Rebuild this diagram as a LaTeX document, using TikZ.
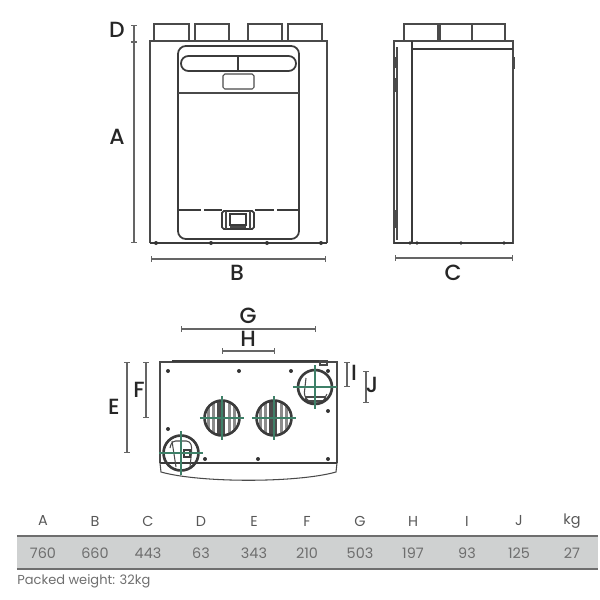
\documentclass[tikz,border=0pt]{standalone}
\usepackage{fontspec}
\usetikzlibrary{arrows.meta}
\setmainfont{Poppins}
\newfontfamily\dimfont{Poppins Medium}
\definecolor{lineC}{HTML}{4A4A4A}
\definecolor{bandC}{HTML}{CFD1D1}
\definecolor{textC}{HTML}{6E6E6E}
\definecolor{axisC}{HTML}{3E8068}
\tikzset{
  outline/.style={draw=lineC,line width=0.6pt},
  heavy/.style={draw=lineC!80!black,line width=1pt},
  dimline/.style={draw=lineC!85,line width=0.8pt,{Bar[width=3pt]}-{Bar[width=3pt]}},
  dimlabel/.style={font=\dimfont\fontsize{12.5}{12.5}\selectfont,text=black!85,inner sep=0pt},
  headlabel/.style={font=\fontsize{8.2}{10}\selectfont,text=textC!80!black,inner sep=0pt},
  valuelabel/.style={font=\fontsize{8.2}{10}\selectfont,text=textC,inner sep=0pt},
  axisline/.style={draw=axisC,line width=0.7pt},
  fixdot/.style={fill=lineC!70!black,draw=none}
}
\begin{document}
\begin{tikzpicture}[x=0.02cm,y=-0.02cm]
\useasboundingbox (0,0) rectangle (600,600);
% front view
\foreach \a/\b in {154/189,195/229,248/282,288/322}
  \draw[outline] (\a,41)--(\a,24)--(\b,24)--(\b,41);
\draw[outline] (150,243)--(150,41)--(327,41)--(327,243);
\draw[heavy] (150,243)--(327,243);
\foreach \x in {156,211,267,321}
  \fill[fixdot] (\x,243) circle (2);
\draw[heavy,rounded corners=4.5pt] (178,93)--(178,46)--(299,46)--(299,93);
\draw[heavy,rounded corners=4.5pt] (178,210)--(178,239)--(299,239)--(299,210);
\draw[heavy] (178,93)--(178,210);
\draw[heavy] (299,93)--(299,210);
\draw[outline] (178,93)--(299,93);
\draw[heavy,rounded corners=4.2pt] (181,56) rectangle (296,71);
\draw[heavy] (238,56)--(238,71);
\draw[outline,rounded corners=1pt] (223,74) rectangle (254,89);
\foreach \a/\b in {178/201,204/222,255/274,277/299}
  \draw[heavy] (\a,210)--(\b,210);
\draw[heavy,rounded corners=1pt] (222,211) rectangle (254,229);
\draw[outline] (226,211)--(226,229);
\draw[outline] (250,211)--(250,229);
\draw[heavy] (230,214) rectangle (246,225);
\draw[outline] (230,227)--(246,227);
\draw[dimline] (134,25)--(134,42);
\draw[dimline] (134,42)--(134,243);
\draw[dimline] (151,259)--(326,259);
\node[dimlabel] (labD) at (117,30) {D};
\node[dimlabel] (labA) at (117,137) {A};
\node[dimlabel] (labB) at (237,273) {B};
% side view
\draw[outline] (404,41)--(404,24)--(505,24)--(505,41);
\draw[outline] (438,24)--(438,41);
\draw[outline] (440,24)--(440,41);
\draw[outline] (472,24)--(472,41);
\draw[outline] (394,41) rectangle (513,243);
\draw[heavy] (412,41)--(412,243);
\draw[heavy] (412,49)--(513,49);
\draw[heavy] (394,243)--(513,243);
\draw[outline] (397,47)--(397,240);
\foreach \a/\b in {57/68,78/92,210/228}
  \draw[draw=lineC,line width=1.4pt] (396,\a)--(396,\b);
\draw[draw=lineC,line width=1.4pt] (514,57)--(514,69);
\foreach \x in {410,417,461,504}
  \fill[fixdot] (\x,243) circle (1.8);
\draw[dimline] (395,258)--(513,258);
\node[dimlabel] (labC) at (453,273) {C};
% plan view
\draw[outline] (160,463)--(160,362)--(337,362)--(337,463);
\draw[heavy] (172,361)--(320,361);
\draw[outline] (320,361) rectangle (327,365);
\draw[heavy] (160,463)--(337,463);
\draw[outline] (160,463)--(161,472) .. controls (200,483) and (297,483) .. (336,472)--(337,463);
\foreach \x/\y in {168/371,239/371,291/371,328/371,328/411,168/429,205/459,258/459,328/459}
  \fill[fixdot] (\x,\y) circle (2);
% louvres
\foreach \cx/\cy in {222/418,274/418}{
  \begin{scope}
    \clip (\cx,\cy) circle (17.5);
    \foreach \d in {-13,-8,8,13}
      \fill[black!45] (\cx+\d-1.5,\cy-18) rectangle (\cx+\d+1.5,\cy+18);
    \fill[black!70] (\cx-5,\cy-18) rectangle (\cx+3,\cy+18);
  \end{scope}
}
% spigot detail
\draw[outline,rounded corners=2pt] (306,378)--(304,396)--(311,403)--(322,403)--(327,394);
\draw[outline] (306,397) rectangle (325,401);
\draw[outline,rounded corners=2pt] (170,448)--(172,441)--(190,441)--(192,448)--(190,467);
\draw[heavy] (184,450) rectangle (190,457);
\draw[outline] (172,441)--(176,467);
\foreach \cx/\cy/\r in {315/387/17,222/418/17.5,274/418/17.5,181/453/17.5}{
  \draw[heavy,line width=1.5pt] (\cx,\cy) circle (\r);
  \draw[axisline] (\cx-22,\cy)--(\cx+22,\cy);
  \draw[axisline] (\cx,\cy-22)--(\cx,\cy+22);
}
\draw[dimline] (181,329)--(316,329);
\draw[dimline] (222,351)--(275,351);
\draw[dimline] (127,362)--(127,453);
\draw[dimline] (146,362)--(146,418);
\draw[dimline] (347,362)--(347,387);
\draw[dimline] (366,371)--(366,403);
\node[dimlabel] (labG) at (248,316) {G};
\node[dimlabel] (labH) at (248,339) {H};
\node[dimlabel] (labE) at (114,407) {E};
\node[dimlabel] (labF) at (139,390) {F};
\node[dimlabel] (labI) at (354,373) {I};
\node[dimlabel] (labJ) at (372,385) {J};
% table
\fill[bandC] (17,536) rectangle (598,569);
\draw[draw=lineC!80,line width=0.9pt] (17,536)--(598,536);
\draw[draw=lineC!80,line width=0.9pt] (17,569)--(598,569);
\foreach \x/\h/\v in {43/A/760,95/B/660,148/C/443,201/D/63,254/E/343,307/F/210,360/G/503,413/H/197,467/I/93,519/J/125,572/kg/27}{
  \node[headlabel] (head\h) at (\x,521) {\h};
  \node[valuelabel] (val\h) at (\x,553) {\v};
}
\node[valuelabel,anchor=west,font=\fontsize{7.4}{10}\selectfont] (packed) at (17,581) {Packed weight: 32kg};
\end{tikzpicture}
\end{document}
